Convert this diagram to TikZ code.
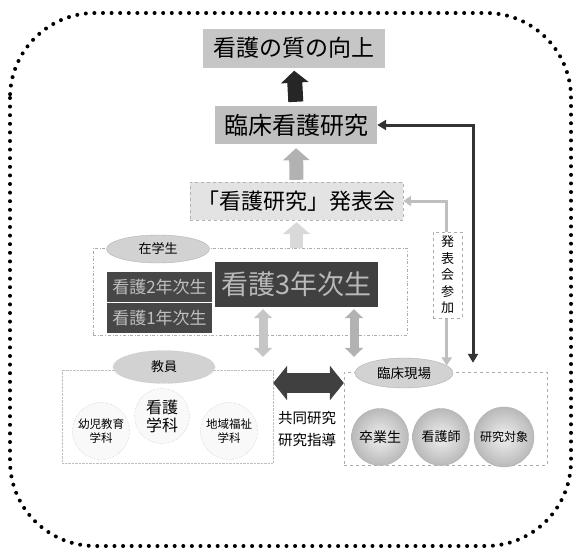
\documentclass[tikz,border=0pt]{standalone}
\usepackage{fontspec}
\setmainfont{Noto Sans CJK JP}
\usetikzlibrary{arrows.meta,shapes.geometric,shadings}
\newcommand{\fsz}[1]{\fontsize{#1}{#1}\selectfont}
\begin{document}
\begin{tikzpicture}[x=1pt,y=-1pt]
\tikzset{
  mainbox/.style={fill=gray!45, inner sep=0pt},
  darkbox/.style={fill=black!72, text=gray!50, inner sep=0pt},
  grpbox/.style={draw=gray!65, inner sep=0pt},
  tagell/.style={ellipse, draw=gray!60, fill=gray!35, inner sep=0pt},
  dotcircle/.style={circle, draw=gray!55, densely dotted, fill=gray!5, inner sep=0pt, minimum size=57pt, align=center},
  sphere/.style={circle, draw=gray!60, shading=radial, inner color=gray!12, outer color=gray!55, inner sep=0pt, minimum size=57pt},
  upblack/.style={line width=15pt, draw=black!85, -{Triangle[width=27pt,length=12pt]}, shorten <=4pt, shorten >=3pt},
  upgray/.style={line width=14pt, draw=gray!60, -{Triangle[width=26pt,length=12pt]}, shorten <=2pt, shorten >=4pt},
  uplight/.style={line width=13pt, draw=gray!30, -{Triangle[width=27pt,length=12pt]}, shorten <=0pt, shorten >=2pt},
  vdbl/.style={line width=9pt, {Triangle[width=18pt,length=9pt]}-{Triangle[width=18pt,length=9pt]}},
  hdbl/.style={line width=20pt, draw=black!75, {Triangle[width=34pt,length=14pt]}-{Triangle[width=34pt,length=14pt]}},
  sidelight/.style={line width=3pt, draw=gray!50, {Triangle[width=10pt,length=8pt]}-{Triangle[width=10pt,length=8pt]}},
  sidedark/.style={line width=3pt, draw=black!80, {Triangle[width=10pt,length=9pt]}-{Triangle[width=10pt,length=9pt]}}
}
\useasboundingbox (0,0) rectangle (575,549);
% outer dotted frame
\draw[line width=4pt, line cap=round, dash pattern=on 0pt off 8.6pt, rounded corners=85pt] (10,13) rectangle (571,546);

% main column
\node[mainbox, minimum width=182pt, minimum height=39pt, font=\fsz{23}] (top) at (294,48) {看護の質の向上};
\node[mainbox, fill=gray!50, minimum width=162pt, minimum height=38pt, font=\fsz{24}] (rinsho) at (296,125) {臨床看護研究};
\node[mainbox, fill=gray!22, draw=gray!60, dashed, minimum width=213pt, minimum height=38pt, font=\fsz{22}] (happyo) at (296.5,201) {「看護研究」発表会};

% students
\node[grpbox, dash dot, minimum width=314pt, minimum height=87pt] (students) at (250,291.5) {};
\node[tagell, minimum width=103pt, minimum height=28pt, font=\fsz{13}] (zaigaku) at (158,249) {在学生};
\node[darkbox, minimum width=105pt, minimum height=30pt, font=\fsz{17}] (nen2) at (159.5,287) {看護2年次生};
\node[darkbox, minimum width=105pt, minimum height=30pt, font=\fsz{17}] (nen1) at (159.5,318) {看護1年次生};
\node[darkbox, fill=black!75, text=gray!55, minimum width=163pt, minimum height=45pt, font=\fsz{27}] (nen3) at (296.5,284.5) {看護3年次生};

% faculty
\node[grpbox, draw=gray!50, densely dotted, minimum width=211pt, minimum height=93pt] (faculty) at (167.5,416.5) {};
\node[tagell, draw=gray!55, densely dotted, minimum width=102pt, minimum height=33pt, font=\fsz{13}] (kyoin) at (164,367) {教員};
\node[dotcircle, font=\fsz{16}, minimum size=55pt] (kango) at (162,416) {看護\\[2pt]学科};
\node[dotcircle, font=\fsz{11.5}] (yoji) at (101,431) {幼児教育\\[3pt]学科};
\node[dotcircle, font=\fsz{11.5}] (chiiki) at (229,431) {地域福祉\\[3pt]学科};

% clinical
\node[grpbox, dashed, minimum width=203pt, minimum height=93pt] (clinic) at (445.5,418.5) {};
\node[tagell, minimum width=98pt, minimum height=30pt, font=\fsz{13.5}] (genba) at (404,373) {臨床現場};
\node[sphere, font=\fsz{14}] (sotsu) at (380,437) {卒業生};
\node[sphere, font=\fsz{13}] (kangoshi) at (441,437) {看護師};
\node[sphere, font=\fsz{12}, minimum size=60pt] (taisho) at (504,437) {研究対象};

\node[align=center, font=\fsz{14.5}] (kyodo) at (307,429) {共同研究\\[7pt]研究指導};

% block arrows
\draw[upblack] (rinsho.north) -- (top.south);
\draw[upgray] (happyo.north) -- (rinsho.north |- rinsho.south);
\draw[uplight] (students.north -| happyo.south) -- (happyo.south);
\draw[vdbl, draw=gray!45] ([xshift=-33.5pt, yshift=-2pt]nen3.south) -- ([xshift=-33.5pt]nen3.south |- faculty.north) [shorten >=13pt];
\draw[vdbl, draw=gray!60] ([xshift=57.5pt, yshift=-2pt]nen3.south) -- ([xshift=57.5pt]nen3.south |- clinic.north) [shorten >=15pt];
\draw[hdbl] ([yshift=33.5pt]faculty.east) -- ([yshift=33.5pt]faculty.east -| clinic.west);

% side connectors
\draw[sidelight] (happyo.east) -| (genba.10);
\draw[sidedark, shorten >=9pt] (rinsho.east) -| ([xshift=27.5pt]clinic.north);
\node[draw=gray!65, dashed, fill=white, minimum width=29pt, minimum height=86pt, inner sep=0pt, align=center, font=\fontsize{13}{16.5}\selectfont] (sanka) at (447.5,275) {発\\表\\会\\参\\加};
\end{tikzpicture}
\end{document}
